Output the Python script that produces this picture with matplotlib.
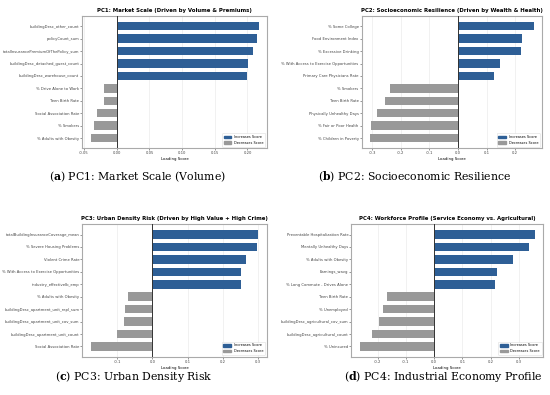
import matplotlib
matplotlib.use("Agg")
import matplotlib.pyplot as plt
from matplotlib.patches import Patch

plt.rcParams["mathtext.fontset"] = "custom"
plt.rcParams["mathtext.bf"] = "DejaVu Serif:bold"
plt.rcParams["mathtext.rm"] = "DejaVu Serif"

W, H = 550, 395
fig = plt.figure(figsize=(W / 100, H / 100), dpi=100)

BLUE = "#2e5f96"
GRAY = "#999999"

pc1_labels = ["buildingDesc_other_count", "policyCount_sum", "totalInsurancePremiumOfThePolicy_sum",
              "buildingDesc_detached_guest_count", "buildingDesc_warehouse_count", "% Drive Alone to Work",
              "Teen Birth Rate", "Social Association Rate", "% Smokers", "% Adults with Obesity"]
pc1_values = [0.217, 0.214, 0.209, 0.201, 0.200, -0.020, -0.020, -0.030, -0.035, -0.040]

pc2_labels = ["% Some College", "Food Environment Index", "% Excessive Drinking",
              "% With Access to Exercise Opportunities", "Primary Care Physicians Rate", "% Smokers",
              "Teen Birth Rate", "Physically Unhealthy Days", "% Fair or Poor Health", "% Children in Poverty"]
pc2_values = [0.264, 0.225, 0.219, 0.146, 0.125, -0.238, -0.255, -0.283, -0.305, -0.308]

pc3_labels = ["totalBuildingInsuranceCoverage_mean", "% Severe Housing Problems", "Violent Crime Rate",
              "% With Access to Exercise Opportunities", "industry_effectiveIb_emp", "% Adults with Obesity",
              "buildingDesc_apartment_unit_repl_sum", "buildingDesc_apartment_unit_cov_sum",
              "buildingDesc_apartment_unit_count", "Social Association Rate"]
pc3_values = [0.301, 0.297, 0.266, 0.253, 0.251, -0.068, -0.078, -0.081, -0.100, -0.175]

pc4_labels = ["Preventable Hospitalization Rate", "Mentally Unhealthy Days", "% Adults with Obesity",
              "Earnings_wavg", "% Long Commute - Drives Alone", "Teen Birth Rate", "% Unemployed",
              "buildingDesc_agricultural_cov_sum", "buildingDesc_agricultural_count", "% Uninsured"]
pc4_values = [0.356, 0.338, 0.280, 0.223, 0.214, -0.168, -0.181, -0.196, -0.220, -0.263]

titles = ["PC1: Market Scale (Driven by Volume & Premiums)",
          "PC2: Socioeconomic Resilience (Driven by Wealth & Health)",
          "PC3: Urban Density Risk (Driven by High Value + High Crime)",
          "PC4: Workforce Profile (Service Economy vs. Agricultural)"]
captions = [("a", "PC1: Market Scale (Volume)"),
            ("b", "PC2: Socioeconomic Resilience"),
            ("c", "PC3: Urban Density Risk"),
            ("d", "PC4: Industrial Economy Profile")]
xticks_list = [[-0.05, 0.0, 0.05, 0.10, 0.15, 0.20],
               [-0.3, -0.2, -0.1, 0.0, 0.1, 0.2],
               [-0.1, 0.0, 0.1, 0.2, 0.3],
               [-0.2, -0.1, 0.0, 0.1, 0.2, 0.3]]
xtick_fmt = ["{:.2f}", "{:.1f}", "{:.1f}", "{:.1f}"]

# pixel boxes: left, top, right, bottom
boxes = [(82.3, 16, 267, 148.3), (361.7, 16, 541.7, 148.3),
         (82.3, 224.3, 266.7, 356.7), (351.3, 224.3, 543.3, 356.7)]
cap_pos = [(137, 177), (415, 177), (134, 377), (443, 377)]

data = [(pc1_labels, pc1_values), (pc2_labels, pc2_values),
        (pc3_labels, pc3_values), (pc4_labels, pc4_values)]

for i, ((labels, values), (l, t, r, b)) in enumerate(zip(data, boxes)):
    ax = fig.add_axes([l / W, (H - b) / H, (r - l) / W, (b - t) / H])
    colors = [BLUE if v > 0 else GRAY for v in values]
    ypos = list(range(len(values)))
    ax.barh(ypos, values, color=colors, height=0.68, zorder=3)
    ax.invert_yaxis()
    ax.axvline(0, color="#333333", lw=0.7, zorder=4)
    ax.set_yticks(ypos)
    ax.set_yticklabels(labels, fontsize=2.7)
    xt = xticks_list[i]
    ax.set_xticks(xt)
    ax.set_xticklabels([xtick_fmt[i].format(v) for v in xt], fontsize=2.7)
    ax.tick_params(length=1.2, width=0.4, pad=1, colors="#444444")
    ax.grid(axis="x", color="#e6e6e6", lw=0.4, zorder=0)
    ax.set_axisbelow(True)
    for sp in ax.spines.values():
        sp.set_color("#aaaaaa")
        sp.set_linewidth(0.8)
    ax.set_title(titles[i], fontsize=3.9, fontweight="bold", pad=3)
    ax.set_xlabel("Loading Score", fontsize=2.8, labelpad=1.5)
    handles = [Patch(color=BLUE, label="Increases Score"), Patch(color=GRAY, label="Decreases Score")]
    ax.legend(handles=handles, loc="lower right", fontsize=2.5, frameon=True,
              handlelength=2.2, handleheight=0.8, borderpad=0.5, framealpha=1,
              edgecolor="#dddddd").get_frame().set_linewidth(0.4)

for (letter, text), (cx, cy) in zip(captions, cap_pos):
    fig.text(cx / W, 1 - cy / H, "(" + r"$\mathbf{" + letter + r"}$" + ") " + text,
             ha="center", va="center", fontsize=7.8, family="DejaVu Serif")

fig.savefig("out.png", dpi=100, facecolor="white")
